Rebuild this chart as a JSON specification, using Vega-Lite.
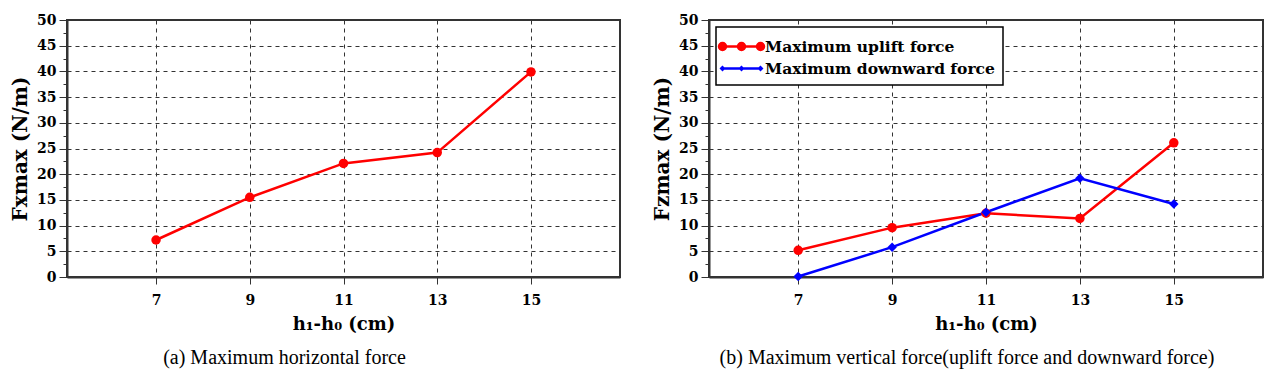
{
  "$schema": "https://vega.github.io/schema/vega-lite/v6.json",
  "autosize": {"type": "pad"},
  "padding": {"left": 9, "top": 12, "right": 5, "bottom": 5},
  "background": "white",
  "bounds": "flush",
  "spacing": 89,
  "config": {
    "font": "DejaVu Serif",
    "view": {"stroke": "#333", "strokeWidth": 2},
    "axis": {
      "labelFont": "DejaVu Serif", "labelFontWeight": "bold", "labelFontSize": 14, "labelColor": "#000",
      "titleFont": "DejaVu Serif", "titleFontWeight": "bold", "titleColor": "#000",
      "domainColor": "#333", "domainWidth": 2, "tickColor": "#333", "tickWidth": 1,
      "gridColor": "#333", "gridDash": [4, 4], "gridWidth": 1,
      "labelOverlap": false, "labelFlush": false
    },
    "axisY": {"titleFontSize": 20},
    "axisX": {"titleFontSize": 18},
    "legend": {"strokeWidth": 1.5},
    "title": {"font": "Liberation Serif", "fontSize": 20, "fontWeight": "normal", "color": "#000", "orient": "bottom", "anchor": "middle", "frame": "group", "offset": 15}
  },
  "datasets": {
    "horizontal": [
      {"h": 7, "force": 7.2},
      {"h": 9, "force": 15.5},
      {"h": 11, "force": 22.1},
      {"h": 13, "force": 24.2},
      {"h": 15, "force": 39.9}
    ],
    "vertical": [
      {"h": 7, "series": "Maximum uplift force", "force": 5.2},
      {"h": 9, "series": "Maximum uplift force", "force": 9.6},
      {"h": 11, "series": "Maximum uplift force", "force": 12.4},
      {"h": 13, "series": "Maximum uplift force", "force": 11.4},
      {"h": 15, "series": "Maximum uplift force", "force": 26.1},
      {"h": 7, "series": "Maximum downward force", "force": 0.1},
      {"h": 9, "series": "Maximum downward force", "force": 5.8},
      {"h": 11, "series": "Maximum downward force", "force": 12.6},
      {"h": 13, "series": "Maximum downward force", "force": 19.2},
      {"h": 15, "series": "Maximum downward force", "force": 14.2}
    ]
  },
  "hconcat": [
    {
      "width": 553,
      "height": 257,
      "title": {"text": "(a) Maximum horizontal force", "dx": -59},
      "data": {"name": "horizontal"},
      "encoding": {
        "x": {"field": "h", "type": "quantitative",
          "scale": {"domain": [5.1, 16.9], "nice": false, "zero": false},
          "axis": {"values": [7, 9, 11, 13, 15], "title": "h₁-h₀ (cm)", "tickSize": 7, "labelPadding": 9, "titlePadding": 8}},
        "y": {"field": "force", "type": "quantitative",
          "scale": {"domain": [0, 50], "nice": false},
          "axis": {
            "values": [0, 2.5, 5, 7.5, 10, 12.5, 15, 17.5, 20, 22.5, 25, 27.5, 30, 32.5, 35, 37.5, 40, 42.5, 45, 47.5, 50],
            "labelExpr": "datum.value % 5 === 0 ? datum.label : ''",
            "tickSize": {"condition": {"test": "datum.value % 5 !== 0", "value": 4}, "value": 8},
            "gridOpacity": {"condition": {"test": "datum.value % 5 !== 0", "value": 0}, "value": 1},
            "title": "Fxmax (N/m)", "labelPadding": 3, "titlePadding": 6}}
      },
      "layer": [
        {"mark": {"type": "line", "color": "#ff0000", "strokeWidth": 2.5}},
        {"mark": {"type": "point", "filled": true, "color": "#ff0000", "size": 90, "opacity": 1, "shape": "circle"}}
      ]
    },
    {
      "width": 554,
      "height": 257,
      "title": {"text": "(b) Maximum vertical force(uplift force and downward force)", "dx": -19},
      "data": {"name": "vertical"},
      "encoding": {
        "x": {"field": "h", "type": "quantitative",
          "scale": {"domain": [5.1, 16.9], "nice": false, "zero": false},
          "axis": {"values": [7, 9, 11, 13, 15], "title": "h₁-h₀ (cm)", "tickSize": 7, "labelPadding": 9, "titlePadding": 8}},
        "y": {"field": "force", "type": "quantitative",
          "scale": {"domain": [0, 50], "nice": false},
          "axis": {
            "values": [0, 2.5, 5, 7.5, 10, 12.5, 15, 17.5, 20, 22.5, 25, 27.5, 30, 32.5, 35, 37.5, 40, 42.5, 45, 47.5, 50],
            "labelExpr": "datum.value % 5 === 0 ? datum.label : ''",
            "tickSize": {"condition": {"test": "datum.value % 5 !== 0", "value": 4}, "value": 8},
            "gridOpacity": {"condition": {"test": "datum.value % 5 !== 0", "value": 0}, "value": 1},
            "title": "Fzmax (N/m)", "labelPadding": 3, "titlePadding": 6}}
      },
      "layer": [
        {"mark": {"type": "line", "strokeWidth": 2.5},
          "encoding": {"color": {"field": "series", "type": "nominal",
            "scale": {"domain": ["Maximum uplift force", "Maximum downward force"], "range": ["#ff0000", "#0000ff"]}, "legend": null}}},
        {"mark": {"type": "point", "filled": true, "size": 90, "opacity": 1},
          "encoding": {
            "color": {"field": "series", "type": "nominal",
              "scale": {"domain": ["Maximum uplift force", "Maximum downward force"], "range": ["#ff0000", "#0000ff"]}, "legend": null},
            "shape": {"field": "series", "type": "nominal",
              "scale": {"domain": ["Maximum uplift force", "Maximum downward force"], "range": ["circle", "diamond"]}, "legend": null}}},
        {"mark": {"type": "point", "filled": true, "size": 400, "opacity": 0, "strokeWidth": 2.5},
          "encoding": {
            "fill": {"field": "series", "type": "nominal",
              "scale": {"domain": ["Maximum uplift force", "Maximum downward force"], "range": ["#ff0000", "#0000ff"]},
              "legend": {"title": null, "orient": "top-left", "offset": 7, "strokeColor": "#000", "fillColor": "white", "padding": 8, "symbolSize": 400, "symbolStrokeWidth": 2.5, "symbolOffset": 6, "labelOffset": 12, "labelFont": "DejaVu Serif", "labelFontWeight": "bold", "labelFontSize": 15.5, "labelColor": "#000", "rowPadding": 2, "symbolOpacity": 1, "labelLimit": 400}},
            "stroke": {"field": "series", "type": "nominal",
              "scale": {"domain": ["Maximum uplift force", "Maximum downward force"], "range": ["#ff0000", "#0000ff"]},
              "legend": {"title": null, "orient": "top-left", "offset": 7, "strokeColor": "#000", "fillColor": "white", "padding": 8, "symbolSize": 400, "symbolStrokeWidth": 2.5, "symbolOffset": 6, "labelOffset": 12, "labelFont": "DejaVu Serif", "labelFontWeight": "bold", "labelFontSize": 15.5, "labelColor": "#000", "rowPadding": 2, "symbolOpacity": 1, "labelLimit": 400}},
            "shape": {"field": "series", "type": "nominal",
              "scale": {"domain": ["Maximum uplift force", "Maximum downward force"],
                "range": [
                  "M-1.9,0L1.9,0M-2.25,0A0.35,0.35,0,1,0,-1.55,0A0.35,0.35,0,1,0,-2.25,0ZM-0.35,0A0.35,0.35,0,1,0,0.35,0A0.35,0.35,0,1,0,-0.35,0ZM1.55,0A0.35,0.35,0,1,0,2.25,0A0.35,0.35,0,1,0,1.55,0Z",
                  "M-1.9,0L1.9,0M-2.02,0L-1.9,-0.12L-1.78,0L-1.9,0.12ZM-0.12,0L0,-0.12L0.12,0L0,0.12ZM1.78,0L1.9,-0.12L2.02,0L1.9,0.12Z"
                ]},
              "legend": {"title": null, "orient": "top-left", "offset": 7, "strokeColor": "#000", "fillColor": "white", "padding": 8, "symbolSize": 400, "symbolStrokeWidth": 2.5, "symbolOffset": 6, "labelOffset": 12, "labelFont": "DejaVu Serif", "labelFontWeight": "bold", "labelFontSize": 15.5, "labelColor": "#000", "rowPadding": 2, "symbolOpacity": 1, "labelLimit": 400}}}}
      ],
      "resolve": {"scale": {"shape": "independent", "fill": "independent", "stroke": "independent"}}
    }
  ]
}
